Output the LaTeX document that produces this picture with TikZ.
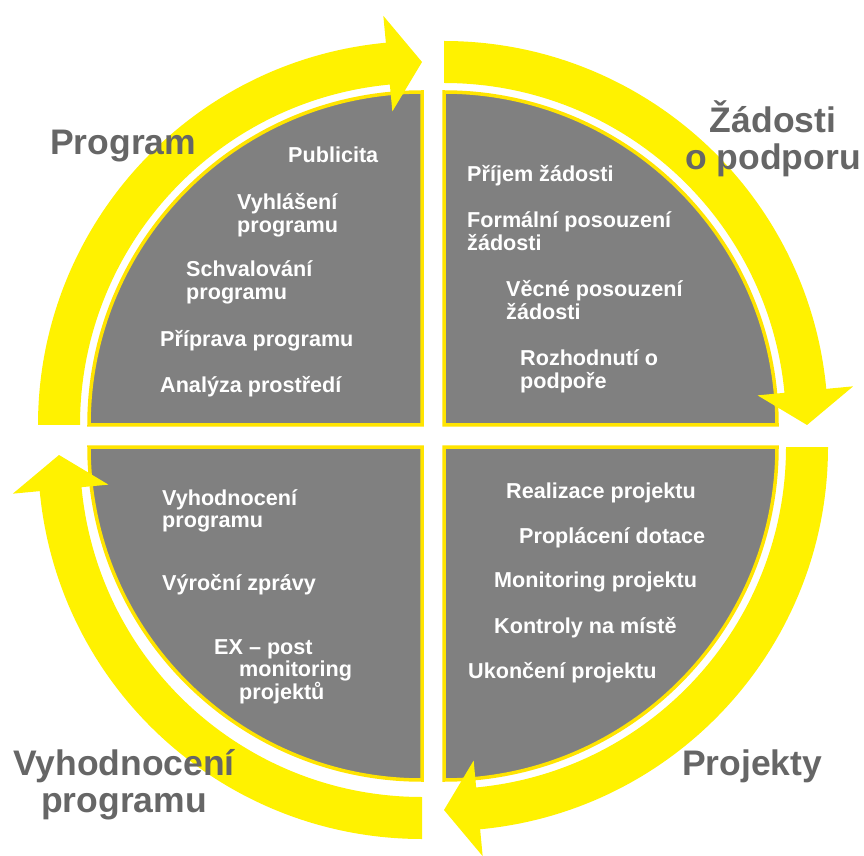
\documentclass[tikz,border=0pt]{standalone}
\usepackage{fontspec}
\setmainfont{Liberation Sans}
\usepackage{xcolor}
\definecolor{bandyellow}{RGB}{255,242,0}
\definecolor{rimyellow}{RGB}{255,228,0}
\definecolor{quartergray}{RGB}{128,128,128}
\definecolor{titlegray}{RGB}{102,102,102}
\tikzset{
	quarter/.style={fill=quartergray, draw=rimyellow, line width=3.5pt},
	band/.style={fill=bandyellow},
	item/.style={text=white, font=\fontsize{21.6}{22.5}\selectfont\bfseries,
			inner sep=0pt, anchor=base west, align=left},
	title/.style={text=titlegray, font=\fontsize{35.5}{37}\selectfont\bfseries,
			inner sep=0pt, align=center},
	pics/turn/.style={code={
				\fill[band] (180:342) -- (180:384) arc[start angle=180, end angle=95.4, radius=384]
				-- (95.4:411) -- (90:363) -- (95.4:315) -- (95.4:342)
				arc[start angle=95.4, end angle=180, radius=342] -- cycle;
			}}
}

\begin{document}
\begin{tikzpicture}[x=1pt, y=1pt]
	\useasboundingbox (0,0) rectangle (864,855);
	\coordinate (tl) at (422,430);
	\coordinate (tr) at (444,430);
	\coordinate (br) at (444,408);
	\coordinate (bl) at (422,408);
	\coordinate (blturn) at (422,400);

	\draw[quarter] (tl) -- ++(180:333) arc[start angle=180, end angle=90, radius=333] -- cycle;
	\draw[quarter] (tr) -- ++(90:333) arc[start angle=90, end angle=0, radius=333] -- cycle;
	\draw[quarter] (br) -- ++(0:333) arc[start angle=0, end angle=-90, radius=333] -- cycle;
	\draw[quarter] (bl) -- ++(-90:333) arc[start angle=-90, end angle=-180, radius=333] -- cycle;

	\pic at (tl) {turn};
	\pic[rotate=-90] at (tr) {turn};
	\pic[rotate=-180] at (br) {turn};
	\pic[rotate=90] at (blturn) {turn};

	% multi-line nodes sit on their last line
	\node[item] (publicita) at (288,692) {Publicita};
	\node[item] (vyhlaseni) at (237,622.5) {Vyhlášení\\programu};
	\node[item] (schvalovani) at (186,555.5) {Schvalování\\programu};
	\node[item] (priprava) at (160,508) {Příprava programu};
	\node[item] (analyza) at (160,462) {Analýza prostředí};

	\node[item] (prijem) at (467,673) {Příjem žádosti};
	\node[item] (formalni) at (467,604.5) {Formální posouzení\\žádosti};
	\node[item] (vecne) at (506,535.5) {Věcné posouzení\\žádosti};
	\node[item] (rozhodnuti) at (520,466.5) {Rozhodnutí o\\podpoře};

	\node[item] (realizace) at (506,357) {Realizace projektu};
	\node[item] (proplaceni) at (519,312) {Proplácení dotace};
	\node[item] (monitoring) at (494,268) {Monitoring projektu};
	\node[item] (kontroly) at (494,222) {Kontroly na místě};
	\node[item] (ukonceni) at (468,177) {Ukončení projektu};

	\node[item] (vyhodnoceni) at (162,327.5) {Vyhodnocení\\programu};
	\node[item] (vyrocni) at (162,265) {Výroční zprávy};
	\node[item] (expost) at (214,156) {EX – post\\\hspace*{25pt}monitoring\\\hspace*{25pt}projektů};

	\node[title, anchor=base west] (program) at (50,700) {Program};
	\node[title, anchor=base] (zadosti) at (773,685) {Žádosti\\o podporu};
	\node[title, anchor=base west] (projekty) at (682,80) {Projekty};
	\node[title, anchor=base] (hodnoceni) at (124,43) {Vyhodnocení\\programu};
\end{tikzpicture}
\end{document}
